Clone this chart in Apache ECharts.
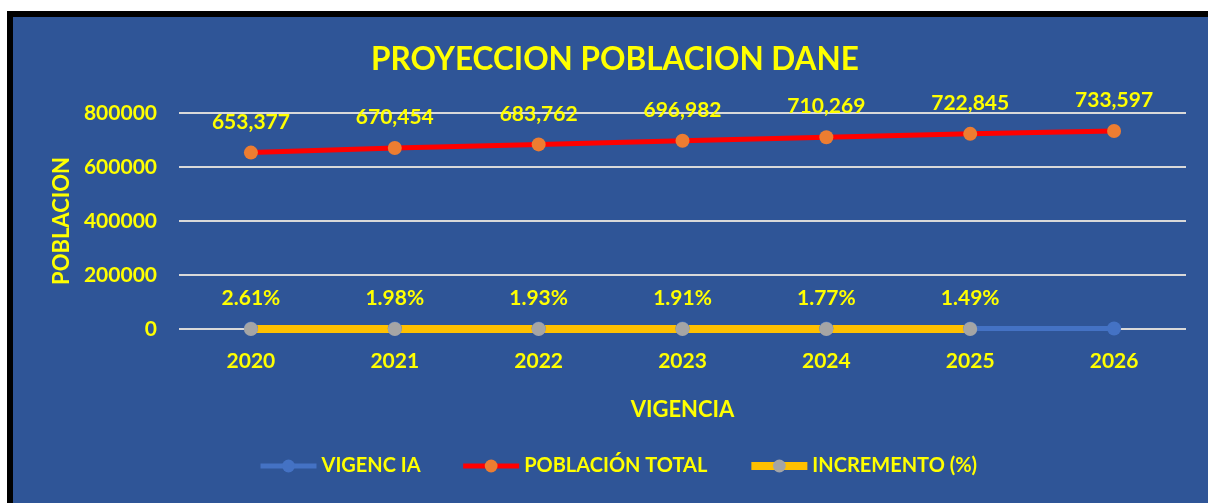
<!DOCTYPE html>
<html>
<head>
<meta charset="utf-8">
<script src="https://cdn.jsdelivr.net/npm/echarts@6/dist/echarts.min.js"></script>
<style>
  html, body { margin: 0; padding: 0; background: #ffffff; }
  #frame {
    position: absolute; left: 7px; top: 11px; width: 1201px; height: 492px;
    box-sizing: border-box; border-top: 6px solid #000; border-left: 6px solid #000;
    background: #2F5597;
  }
  #chart { position: absolute; left: 0; top: 0; width: 1208px; height: 503px; }
</style>
</head>
<body>
<div id="frame"></div>
<div id="chart"></div>
<script>
const years = ['2020', '2021', '2022', '2023', '2024', '2025', '2026']
const vigencia = [2020, 2021, 2022, 2023, 2024, 2025, 2026]
const poblacionTotal = [653377, 670454, 683762, 696982, 710269, 722845, 733597]
const incremento = [2.61, 1.98, 1.93, 1.91, 1.77, 1.49, null]
const yTicks = [0, 200000, 400000, 600000, 800000]

const yellow = '#FFFF00'
const font = 'Lato, "Noto Sans", sans-serif'

const chart = echarts.init(document.getElementById('chart'))

chart.setOption({
  backgroundColor: 'transparent',
  textStyle: { fontFamily: font },
  title: {
    text: 'PROYECCION POBLACION DANE',
    left: 366,
    top: 39,
    textStyle: { color: yellow, fontSize: 31.5, fontWeight: 'bold', fontFamily: font },
  },
  legend: {
    bottom: 22,
    left: 253,
    itemWidth: 56,
    itemHeight: 16,
    itemGap: 40,
    textStyle: { color: yellow, fontSize: 20, fontWeight: 'bold', fontFamily: font },
    data: [
      { name: 'VIGENC IA', lineStyle: { width: 5 } },
      { name: 'POBLACIÓN TOTAL', lineStyle: { width: 5 } },
      { name: 'INCREMENTO (%)', lineStyle: { width: 8 } },
    ],
  },
  grid: { left: 179, right: 22, top: 113, bottom: 174 },
  xAxis: {
    type: 'category',
    data: years,
    name: 'VIGENCIA',
    nameLocation: 'middle',
    nameGap: 70,
    nameTextStyle: { color: yellow, fontSize: 22, fontWeight: 'bold' },
    axisLine: { show: false },
    axisTick: { show: false },
    axisLabel: { color: yellow, fontSize: 21, fontWeight: 'bold', margin: 22 },
  },
  yAxis: {
    type: 'value',
    min: yTicks[0],
    max: yTicks[yTicks.length - 1],
    interval: 200000,
    name: 'POBLACION',
    nameLocation: 'middle',
    nameGap: 106,
    nameTextStyle: { color: yellow, fontSize: 22, fontWeight: 'bold' },
    axisLine: { show: false },
    axisTick: { show: false },
    axisLabel: { color: yellow, fontSize: 21, fontWeight: 'bold', margin: 22, formatter: v => String(v) },
    splitLine: { lineStyle: { color: '#D9D9D9', width: 2 } },
  },
  series: [
    {
      name: 'VIGENC IA',
      type: 'line',
      data: vigencia,
      symbol: 'circle',
      symbolSize: 14,
      lineStyle: { color: '#4472C4', width: 5 },
      itemStyle: { color: '#4472C4' },
    },
    {
      name: 'POBLACIÓN TOTAL',
      type: 'line',
      data: poblacionTotal,
      symbol: 'circle',
      symbolSize: 14,
      lineStyle: { color: '#FF0000', width: 5 },
      itemStyle: { color: '#ED7D31' },
      label: {
        show: true,
        position: 'top',
        distance: 13,
        color: yellow,
        fontSize: 21,
        fontWeight: 'bold',
        formatter: p => p.value.toLocaleString('en-US'),
      },
    },
    {
      name: 'INCREMENTO (%)',
      type: 'line',
      data: incremento,
      symbol: 'circle',
      symbolSize: 14,
      lineStyle: { color: '#FFC000', width: 8 },
      itemStyle: { color: '#A5A5A5' },
      label: {
        show: true,
        position: 'top',
        distance: 13,
        color: yellow,
        fontSize: 21,
        fontWeight: 'bold',
        formatter: p => p.value.toFixed(2) + '%',
      },
    },
  ],
})
</script>
</body>
</html>
